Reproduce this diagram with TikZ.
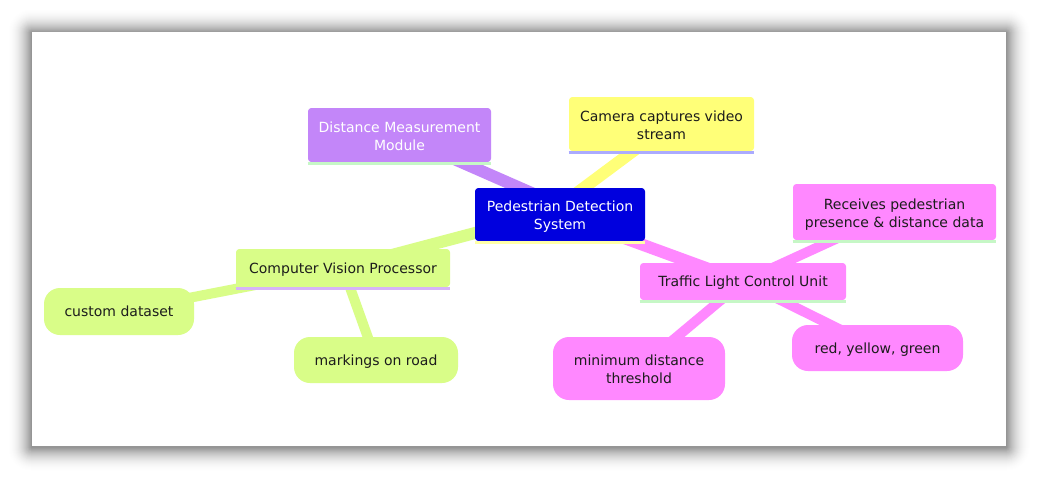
\documentclass[tikz,border=0pt]{standalone}
\usepackage{fontspec}
\setmainfont{DejaVu Sans}
\usetikzlibrary{calc}
\definecolor{cblue}{HTML}{0000DE}
\definecolor{cpurple}{HTML}{C386F9}
\definecolor{cyellow}{HTML}{FFFF78}
\definecolor{cgreen}{HTML}{D9FD88}
\definecolor{cpink}{HTML}{FF88FF}
\definecolor{lgreen}{HTML}{C6F7C6}
\definecolor{lblue}{HTML}{ABABFF}
\definecolor{llav}{HTML}{D6B4F8}
\definecolor{lyel}{HTML}{FFFFA8}
\definecolor{txt}{HTML}{1C1C1C}
\pgfdeclarelayer{back}
\pgfdeclarelayer{bg}
\pgfsetlayers{back,bg,main}
\begin{document}
\begin{tikzpicture}[x=0.75pt,y=-0.75pt,
  base/.style={rectangle, inner sep=0pt, align=center, text=txt,
    font=\fontsize{10.5}{13.5}\selectfont},
  oneline/.style={text height=10pt, text depth=2.5pt},
  twoline/.style={text height=25.2pt, text depth=2.5pt},
  rectbox/.style={base, rounded corners=2.5pt},
  pill/.style={base, rounded corners=12pt},
  edgeA/.style={line width=9pt, line cap=butt},
  edgeB/.style={line width=7.5pt, line cap=butt},
  uline/.style={line width=2.2pt, line cap=butt}]
\useasboundingbox (0,0) rectangle (1039,479);
\begin{pgfonlayer}{back}
\foreach \i in {24,...,1}{
  \pgfmathsetmacro\p{45*(1-\i/25)^2}
  \fill[black!\p!white, rounded corners=\i*0.75pt] (32-\i,32-\i+1) rectangle (1006+\i,446+\i+1);
}
\fill[white] (32,32) rectangle (1006,446);
\end{pgfonlayer}

\node[rectbox, twoline, fill=cblue, text=white, minimum width=127.5pt, minimum height=39.75pt] (root) at (560,214.5) {Pedestrian Detection\\System};
\node[rectbox, twoline, fill=cpurple, text=white, minimum width=137.25pt, minimum height=40.5pt] (dist) at (399.5,135) {Distance Measurement\\Module};
\node[rectbox, twoline, fill=cyellow, minimum width=138.75pt, minimum height=40.5pt] (cam) at (661.5,124) {Camera captures video\\stream};
\node[rectbox, oneline, fill=cgreen, minimum width=160.5pt, minimum height=28.5pt] (cvp) at (343,268) {Computer Vision Processor};
\node[pill, oneline, fill=cgreen, minimum width=112.5pt, minimum height=35.25pt] (custom) at (119,311.5) {custom dataset};
\node[pill, oneline, fill=cgreen, minimum width=123pt, minimum height=34.5pt] (mark) at (376,360) {markings on road};
\node[rectbox, oneline, fill=cpink, minimum width=154.5pt, minimum height=27.75pt] (tlcu) at (743,281.5) {Traffic Light Control Unit};
\node[rectbox, twoline, fill=cpink, minimum width=152.25pt, minimum height=42pt] (recv) at (894.5,212) {Receives pedestrian\\presence \& distance data};
\node[pill, twoline, fill=cpink, minimum width=129pt, minimum height=47.25pt] (mind) at (639,368.5) {minimum distance\\threshold};
\node[pill, oneline, fill=cpink, minimum width=128.25pt, minimum height=34.5pt] (rgy) at (877.5,348) {red, yellow, green};

\draw[uline, lyel] ([yshift=-0.9pt]root.south west) -- ([yshift=-0.9pt]root.south east);
\draw[uline, lgreen] ([yshift=-0.9pt]dist.south west) -- ([yshift=-0.9pt]dist.south east);
\draw[uline, lblue] ([yshift=-0.9pt]cam.south west) -- ([yshift=-0.9pt]cam.south east);
\draw[uline, llav] ([yshift=-0.9pt]cvp.south west) -- ([yshift=-0.9pt]cvp.south east);
\draw[uline, lgreen] ([yshift=-0.9pt]tlcu.south west) -- ([yshift=-0.9pt]tlcu.south east);
\draw[uline, lgreen] ([yshift=-0.9pt]recv.south west) -- ([yshift=-0.9pt]recv.south east);

\begin{pgfonlayer}{bg}
\draw[edgeA, cpurple] (dist.center) -- ($(root.center)+(0,-9)$);
\draw[edgeA, cyellow] ($(cam.center)+(8,0)$) -- ($(root.center)+(-12,0)$);
\draw[edgeA, cgreen] ($(cvp.center)+(30,-8)$) -- ($(root.center)+(0,-4)$);
\draw[edgeA, cpink] (root.center) -- (tlcu.center);
\draw[edgeB, cpink] (tlcu.center) -- (recv.center);
\draw[edgeB, cpink] (tlcu.center) -- (mind.center);
\draw[edgeB, cpink] (tlcu.center) -- (rgy.center);
\draw[edgeB, cgreen] (cvp.center) -- (custom.center);
\draw[edgeB, cgreen] (cvp.center) -- (mark.center);
\end{pgfonlayer}
\end{tikzpicture}
\end{document}
